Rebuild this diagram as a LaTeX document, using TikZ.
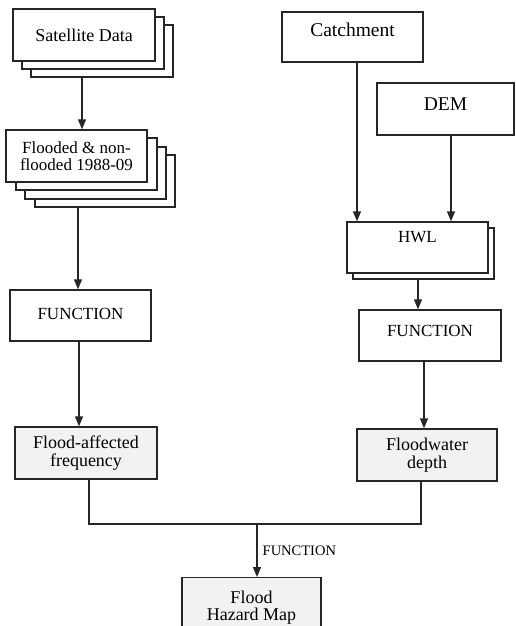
\documentclass[tikz,border=0pt]{standalone}
\usepackage{fontspec}
\setmainfont{Liberation Serif}
\usetikzlibrary{arrows.meta}
\begin{document}
\begin{tikzpicture}[x=1pt,y=-1pt,
  box/.style={draw=black!85, line width=1.4pt, fill=white, minimum width=#1, minimum height=52pt, inner sep=0pt, align=center, font=\fontsize{18}{17.5}\selectfont},
  box/.default=141pt,
  gbox/.style={box=#1, fill=black!5},
  gbox/.default=141pt,
  lift/.style={text height=12pt, text depth=#1},
  arr/.style={draw=black!85, line width=1.4pt, -{Triangle[length=10pt,width=8pt]}},
  ln/.style={draw=black!85, line width=1.4pt}]
\useasboundingbox (0,0) rectangle (515,626);
\clip (0,0) rectangle (515,626);

% Satellite data stack
\node[box=142pt] (sat3) at (102,51) {};
\node[box=142pt] (sat2) at (93,43) {};
\node[box=142pt] (sat) at (84,35) {Satellite Data};

% Flooded stack
\node[box=140pt] (fl4) at (105,181) {};
\node[box=141pt] (fl3) at (95.5,173) {};
\node[box=141pt] (fl2) at (86.5,164) {};
\node[box=141pt, font=\fontsize{17}{16.5}\selectfont] (fl) at (76.5,156) {Flooded \& non-\\flooded 1988-09};

\node[box=141pt, minimum height=51pt, lift=5pt, font=\fontsize{17}{16}\selectfont] (fn1) at (80.5,315.5) {FUNCTION};
\node[gbox=142pt] (fa) at (86,453) {Flood-affected\\frequency};

% Right column
\node[box=141pt, minimum height=50pt, lift=12pt, font=\fontsize{19.5}{18}\selectfont] (catch) at (352.5,37) {Catchment};
\node[box=137pt, lift=10pt, font=\fontsize{19.5}{18}\selectfont] (dem) at (445.5,109) {DEM};
\node[box=141pt, minimum height=51pt] (hwl2) at (423.5,253.5) {};
\node[box=141pt, minimum height=51pt, lift=23pt, font=\fontsize{17}{16}\selectfont] (hwl) at (417.5,247.5) {HWL};
\node[box=142pt, minimum height=51pt, lift=10pt, font=\fontsize{17}{16}\selectfont] (fn2) at (430,335.5) {FUNCTION};
\node[gbox=140pt] (fw) at (427,455) {Floodwater\\depth};

% Final
\node[gbox=139pt, minimum height=0pt, anchor=north, inner ysep=3pt, text height=40pt, text depth=40pt] (fh) at (251.5,577) {Flood\\Hazard Map};

% connectors
\draw[arr] (sat3.south -| 82,0) -- (fl.north -| 82,0);
\draw[arr] (fl4.south -| 78,0) -- (fn1.north -| 78,0);
\draw[arr] (fn1.south -| 79,0) -- (fa.north -| 79,0);
\draw[arr] (catch.south -| 357,0) -- (hwl.north -| 357,0);
\draw[arr] (dem.south -| 451,0) -- (hwl.north -| 451,0);
\draw[arr] (hwl2.south -| 418,0) -- (fn2.north -| 418,0);
\draw[arr] (fn2.south -| 424,0) -- (fw.north -| 424,0);

\coordinate (m) at (257,524);
\draw[ln] (fa.south -| 89,0) -- (89,0 |- m) -- (421,0 |- m) -- (fw.south -| 421,0);
\draw[arr] (m) -- node[midway, anchor=west, inner sep=0pt, xshift=5pt, font=\fontsize{14.5}{14}\selectfont] (lbl) {FUNCTION} (fh.north -| m);
\end{tikzpicture}
\end{document}
